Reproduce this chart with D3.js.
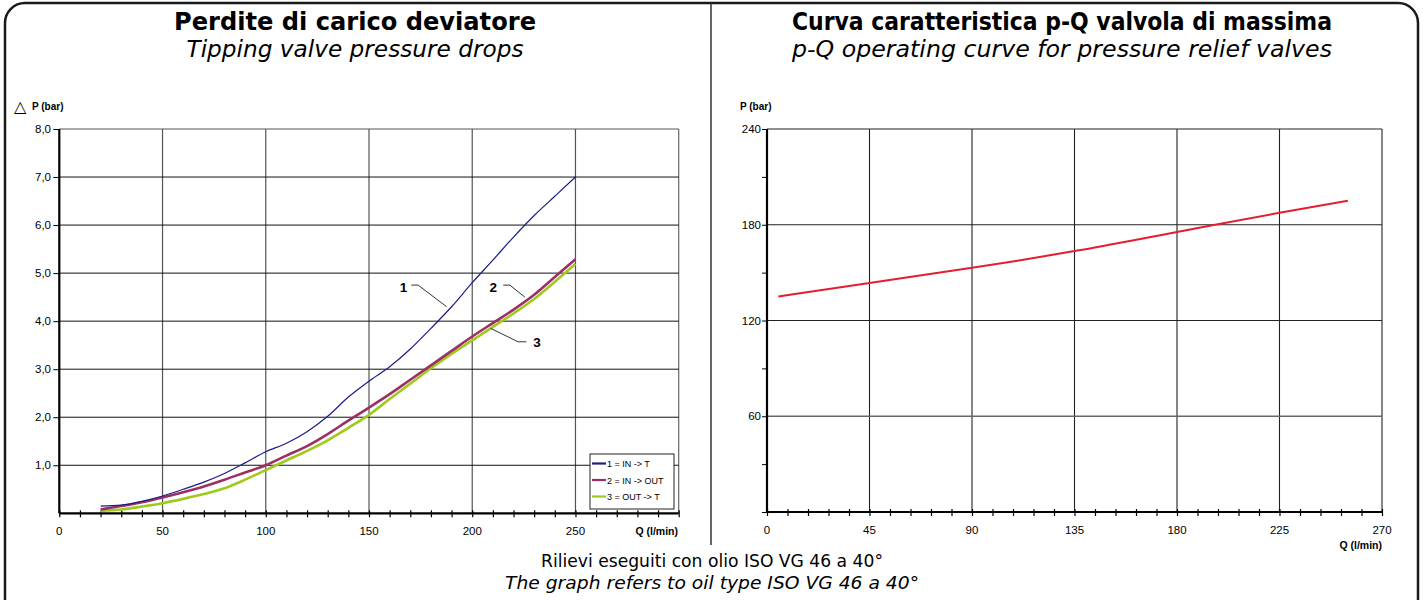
<!DOCTYPE html>
<html>
<head>
<meta charset="utf-8">
<script src="https://cdn.jsdelivr.net/npm/d3@7"></script>
<style>
  body { margin: 0; background: #fff; }
  svg { display: block; }
</style>
</head>
<body>
<div id="viz"></div>
<script>
const width = 1423;
const height = 600;

// Left chart: pressure drops, Q (l/min) -> dP (bar)
const qDrop = [20, 30, 40, 50, 60, 70, 80, 90, 100, 110, 120, 130, 140, 150, 160, 170, 180, 190, 200, 210, 220, 230, 240, 250];
const dpInT = [0.15, 0.17, 0.25, 0.36, 0.5, 0.65, 0.83, 1.05, 1.28, 1.46, 1.7, 2.02, 2.42, 2.75, 3.05, 3.42, 3.85, 4.3, 4.8, 5.27, 5.75, 6.2, 6.6, 7.0];
const dpInOut = [0.08, 0.15, 0.23, 0.33, 0.44, 0.56, 0.7, 0.85, 1.0, 1.2, 1.4, 1.65, 1.93, 2.2, 2.48, 2.78, 3.08, 3.38, 3.68, 3.96, 4.24, 4.55, 4.92, 5.29];
const dpOutT = [0.05, 0.08, 0.14, 0.21, 0.3, 0.4, 0.52, 0.7, 0.9, 1.1, 1.3, 1.52, 1.78, 2.05, 2.38, 2.7, 3.02, 3.32, 3.6, 3.88, 4.16, 4.46, 4.82, 5.19];
const seriesNames = ['1 = IN -> T', '2 = IN -> OUT', '3 = OUT -> T'];
const dropTicksX = [0, 50, 100, 150, 200, 250];
const dropTicksY = [1, 2, 3, 4, 5, 6, 7, 8];

// Right chart: relief valve p-Q curve
const qRelief = [5, 45, 90, 110, 135, 180, 225, 255];
const pRelief = [135, 143.5, 153, 157.5, 163.5, 175.5, 187.5, 195];
const reliefTicksX = [0, 45, 90, 135, 180, 225, 270];
const reliefTicksY = [60, 120, 180, 240];

const colors = ['#1c1c8a', '#9c2f63', '#9fca1c'];
const lineWidths = [1.2, 2.6, 2.6];
const colorRelief = '#e41e2e';

const svg = d3.select('#viz')
  .append('svg')
    .attr('width', width)
    .attr('height', height);

// Outer frame with rounded top corners
svg.append('rect')
  .attr('x', 5)
  .attr('y', 3)
  .attr('width', 1413)
  .attr('height', 640)
  .attr('rx', 20)
  .attr('fill', 'none')
  .attr('stroke', '#1a1a1a')
  .attr('stroke-width', 2.5);

// Divider between panels
svg.append('line')
  .attr('x1', 711).attr('x2', 711)
  .attr('y1', 3).attr('y2', 545)
  .attr('stroke', '#333')
  .attr('stroke-width', 1.5);

const titleFont = '"DejaVu Sans", sans-serif';

const addTitle = (cx, main, sub, mainW, subW) => {
  svg.append('text')
    .attr('x', cx).attr('y', 30)
    .attr('text-anchor', 'middle')
    .attr('font-family', titleFont)
    .attr('font-weight', 'bold')
    .attr('font-size', 24)
    .attr('textLength', mainW)
    .attr('lengthAdjust', 'spacingAndGlyphs')
    .text(main);
  svg.append('text')
    .attr('x', cx).attr('y', 57)
    .attr('text-anchor', 'middle')
    .attr('font-family', titleFont)
    .attr('font-style', 'italic')
    .attr('font-size', 23)
    .attr('textLength', subW)
    .attr('lengthAdjust', 'spacingAndGlyphs')
    .text(sub);
};
addTitle(355, 'Perdite di carico deviatore', 'Tipping valve pressure drops', 362, 337);
addTitle(1062, 'Curva caratteristica p-Q valvola di massima', 'p-Q operating curve for pressure relief valves', 540, 540);

// Footer note
svg.append('text')
  .attr('x', 712).attr('y', 567)
  .attr('text-anchor', 'middle')
  .attr('font-family', titleFont)
  .attr('font-size', 18)
  .attr('textLength', 342)
  .attr('lengthAdjust', 'spacingAndGlyphs')
  .text('Rilievi eseguiti con olio ISO VG 46 a 40°');
svg.append('text')
  .attr('x', 712).attr('y', 589)
  .attr('text-anchor', 'middle')
  .attr('font-family', titleFont)
  .attr('font-style', 'italic')
  .attr('font-size', 18)
  .attr('textLength', 414)
  .attr('lengthAdjust', 'spacingAndGlyphs')
  .text('The graph refers to oil type ISO VG 46 a 40°');

const tickFont = '"Liberation Sans", Arial, sans-serif';

// ---------- Left chart ----------
const xL = d3.scaleLinear().domain([0, 300]).range([59.3, 678.7]);
const yL = d3.scaleLinear().domain([0, 8]).range([513.3, 129]);

const left = svg.append('g').attr('class', 'left-chart');

// vertical grid
left.append('g')
  .selectAll('line')
  .data([50, 100, 150, 200, 250, 300])
  .join('line')
    .attr('x1', d => xL(d)).attr('x2', d => xL(d))
    .attr('y1', yL(8)).attr('y2', yL(0))
    .attr('stroke', d => d === 300 ? '#666' : '#555')
    .attr('stroke-width', 1.2);
// horizontal grid
left.append('g')
  .selectAll('line')
  .data(dropTicksY)
  .join('line')
    .attr('x1', xL(0)).attr('x2', xL(300))
    .attr('y1', d => yL(d)).attr('y2', d => yL(d))
    .attr('stroke', d => d === 8 ? '#555' : '#111')
    .attr('stroke-width', 1);

// x axis with minor ticks
left.append('g')
  .attr('transform', `translate(0,${yL(0)})`)
  .call(d3.axisBottom(xL).tickValues(d3.range(0, 301, 10)).tickSize(4).tickFormat(''))
  .call(g => g.select('.domain').attr('stroke-width', 2.2).attr('d', `M${xL(0)},0H${xL(300)}`))
  .call(g => g.selectAll('.tick line').attr('y1', -3).attr('y2', 4).attr('stroke-width', 1.2));
left.append('g')
  .selectAll('text')
  .data(dropTicksX)
  .join('text')
    .attr('x', d => xL(d))
    .attr('y', 535)
    .attr('text-anchor', 'middle')
    .attr('font-family', tickFont)
    .attr('font-size', 11.5)
    .text(d => d);
left.append('text')
  .attr('x', 678).attr('y', 535)
  .attr('text-anchor', 'end')
  .attr('font-family', tickFont)
  .attr('font-weight', 'bold')
  .attr('font-size', 10.5)
  .text('Q (l/min)');

// y axis
left.append('g')
  .attr('transform', `translate(${xL(0)},0)`)
  .call(d3.axisLeft(yL).tickValues(dropTicksY).tickSize(6).tickFormat(''))
  .call(g => g.select('.domain').attr('stroke-width', 2.2).attr('d', `M0,${yL(0)}V${yL(8)}`))
  .call(g => g.selectAll('.tick line').attr('stroke-width', 1));
left.append('g')
  .selectAll('text')
  .data(dropTicksY)
  .join('text')
    .attr('x', 51)
    .attr('y', d => yL(d) + 4)
    .attr('text-anchor', 'end')
    .attr('font-family', tickFont)
    .attr('font-size', 11.5)
    .text(d => d3.format('.1f')(d).replace('.', ','));
left.append('text')
  .attr('x', 14).attr('y', 112)
  .attr('font-family', tickFont)
  .attr('font-size', 16)
  .text('\u25B3');
left.append('text')
  .attr('x', 32).attr('y', 110)
  .attr('font-family', tickFont)
  .attr('font-weight', 'bold')
  .attr('font-size', 10)
  .text('P (bar)');

// curves
const dropSeries = [dpOutT, dpInOut, dpInT].map((vals, k) => ({
  idx: 2 - k,
  values: qDrop.map((q, i) => ({q: q, p: vals[i]}))
}));
const dropLine = d3.line()
  .x(d => xL(d.q))
  .y(d => yL(d.p))
  .curve(d3.curveMonotoneX);
left.append('g')
  .selectAll('path')
  .data(dropSeries)
  .join('path')
    .attr('d', d => dropLine(d.values))
    .attr('fill', 'none')
    .attr('stroke', d => colors[d.idx])
    .attr('stroke-width', d => lineWidths[d.idx]);

// leader labels, points given in data units
const leaders = [
  {label: '1', text: [168.5, 4.72], pts: [[170.5, 4.75], [173.8, 4.75], [187.6, 4.3]]},
  {label: '2', text: [212, 4.72], pts: [[215, 4.75], [218.2, 4.75], [225.5, 4.5]]},
  {label: '3', text: [229.5, 3.57], pts: [[208.9, 3.85], [222.2, 3.57], [226.2, 3.57]]}
];
const leaderLine = d3.line().x(d => xL(d[0])).y(d => yL(d[1]));
leaders.forEach(l => {
  left.append('path')
    .attr('d', leaderLine(l.pts))
    .attr('fill', 'none')
    .attr('stroke', '#333')
    .attr('stroke-width', 1);
  left.append('text')
    .attr('x', xL(l.text[0]))
    .attr('y', yL(l.text[1]) + 5)
    .attr('text-anchor', l.label === '3' ? 'start' : 'end')
    .attr('font-family', tickFont)
    .attr('font-weight', 'bold')
    .attr('font-size', 13.5)
    .text(l.label);
});

// legend
const legend = left.append('g').attr('transform', 'translate(590,454)');
legend.append('rect')
  .attr('width', 84).attr('height', 55)
  .attr('fill', '#fff')
  .attr('stroke', '#222')
  .attr('stroke-width', 1);
seriesNames.forEach((name, i) => {
  legend.append('line')
    .attr('x1', 2).attr('x2', 16)
    .attr('y1', 9.5 + i * 16.5).attr('y2', 9.5 + i * 16.5)
    .attr('stroke', colors[i])
    .attr('stroke-width', 2.2);
  legend.append('text')
    .attr('x', 17).attr('y', 13 + i * 16.5)
    .attr('font-family', tickFont)
    .attr('font-size', 9)
    .text(name);
});

// ---------- Right chart ----------
const xR = d3.scaleLinear().domain([0, 270]).range([767, 1382]);
const yR = d3.scaleLinear().domain([0, 240]).range([512, 129]);

const right = svg.append('g').attr('class', 'right-chart');

right.append('g')
  .selectAll('line')
  .data([45, 90, 135, 180, 225, 270])
  .join('line')
    .attr('x1', d => xR(d)).attr('x2', d => xR(d))
    .attr('y1', yR(240)).attr('y2', yR(0))
    .attr('stroke', '#222')
    .attr('stroke-width', 1.1);
right.append('g')
  .selectAll('line')
  .data(reliefTicksY)
  .join('line')
    .attr('x1', xR(0)).attr('x2', xR(270))
    .attr('y1', d => yR(d)).attr('y2', d => yR(d))
    .attr('stroke', d => d === 60 ? '#666' : '#222')
    .attr('stroke-width', d => d === 60 ? 1.4 : 1.1);

right.append('g')
  .attr('transform', `translate(0,${yR(0)})`)
  .call(d3.axisBottom(xR).tickValues(d3.range(0, 271, 9)).tickSize(4).tickFormat(''))
  .call(g => g.select('.domain').attr('stroke-width', 2.2).attr('d', `M${xR(0)},0H${xR(270)}`))
  .call(g => g.selectAll('.tick line').attr('y1', -3).attr('y2', 4).attr('stroke-width', 1.2));
right.append('g')
  .selectAll('text')
  .data(reliefTicksX)
  .join('text')
    .attr('x', d => xR(d))
    .attr('y', 534)
    .attr('text-anchor', 'middle')
    .attr('font-family', tickFont)
    .attr('font-size', 11.5)
    .text(d => d);
right.append('text')
  .attr('x', 1382).attr('y', 549)
  .attr('text-anchor', 'end')
  .attr('font-family', tickFont)
  .attr('font-weight', 'bold')
  .attr('font-size', 10.5)
  .text('Q (l/min)');

right.append('g')
  .attr('transform', `translate(${xR(0)},0)`)
  .call(d3.axisLeft(yR).tickValues(d3.range(0, 241, 30)).tickSize(5).tickFormat(''))
  .call(g => g.select('.domain').attr('stroke-width', 2.2).attr('d', `M0,${yR(0)}V${yR(240)}`))
  .call(g => g.selectAll('.tick line').attr('stroke-width', 1));
right.append('g')
  .selectAll('text')
  .data(reliefTicksY)
  .join('text')
    .attr('x', 761)
    .attr('y', d => yR(d) + 4)
    .attr('text-anchor', 'end')
    .attr('font-family', tickFont)
    .attr('font-size', 11.5)
    .text(d => d);
right.append('text')
  .attr('x', 740).attr('y', 110)
  .attr('font-family', tickFont)
  .attr('font-weight', 'bold')
  .attr('font-size', 10)
  .text('P (bar)');

const reliefLine = d3.line()
  .x((d, i) => xR(qRelief[i]))
  .y(d => yR(d))
  .curve(d3.curveMonotoneX);
right.append('path')
  .attr('d', reliefLine(pRelief))
  .attr('fill', 'none')
  .attr('stroke', colorRelief)
  .attr('stroke-width', 2);
</script>
</body>
</html>
